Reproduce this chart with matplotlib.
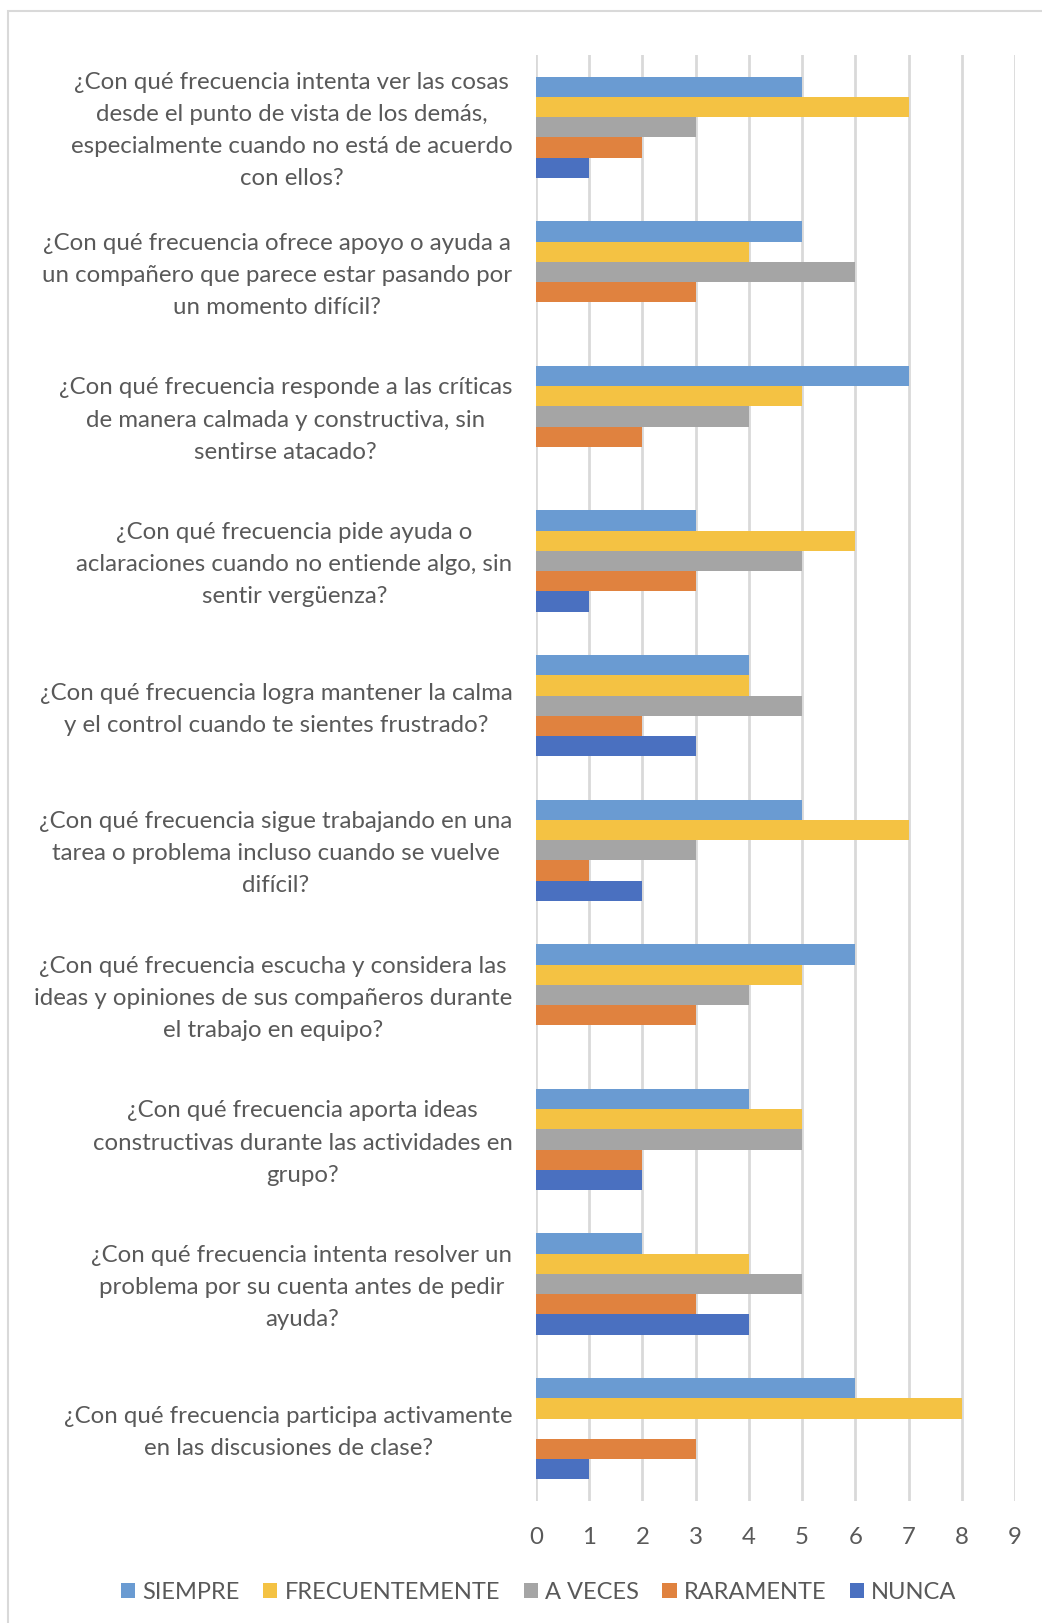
import matplotlib.pyplot as plt
import numpy as np
from matplotlib.patches import Rectangle
from matplotlib.transforms import ScaledTranslation

plt.rcParams['font.family'] = ['Lato', 'DejaVu Sans']

preguntas = [
    "¿Con qué frecuencia intenta ver las cosas\ndesde el punto de vista de los demás,\nespecialmente cuando no está de acuerdo\ncon ellos?",
    "¿Con qué frecuencia ofrece apoyo o ayuda a\nun compañero que parece estar pasando por\nun momento difícil?",
    "¿Con qué frecuencia responde a las críticas\nde manera calmada y constructiva, sin\nsentirse atacado?",
    "¿Con qué frecuencia pide ayuda o\naclaraciones cuando no entiende algo, sin\nsentir vergüenza?",
    "¿Con qué frecuencia logra mantener la calma\ny el control cuando te sientes frustrado?",
    "¿Con qué frecuencia sigue trabajando en una\ntarea o problema incluso cuando se vuelve\ndifícil?",
    "¿Con qué frecuencia escucha y considera las\nideas y opiniones de sus compañeros durante\nel trabajo en equipo?",
    "¿Con qué frecuencia aporta ideas\nconstructivas durante las actividades en\ngrupo?",
    "¿Con qué frecuencia intenta resolver un\nproblema por su cuenta antes de pedir\nayuda?",
    "¿Con qué frecuencia participa activamente\nen las discusiones de clase?",
]
series = ['SIEMPRE', 'FRECUENTEMENTE', 'A VECES', 'RARAMENTE', 'NUNCA']
siempre = [5, 5, 7, 3, 4, 5, 6, 4, 2, 6]
frecuentemente = [7, 4, 5, 6, 4, 7, 5, 5, 4, 8]
a_veces = [3, 6, 4, 5, 5, 3, 4, 5, 5, 0]
raramente = [2, 3, 2, 3, 2, 1, 3, 2, 3, 3]
nunca = [1, 0, 0, 1, 3, 2, 0, 2, 4, 1]
colores = ['#6A9BD2', '#F4C243', '#A5A5A5', '#E0823F', '#4A70C0']

valores = [siempre, frecuentemente, a_veces, raramente, nunca]

fig = plt.figure(figsize=(10.42, 16.24), dpi=100)
# marco gris claro
fig.patches.append(Rectangle((8/1042, -0.01), 1.1, 1 - 12/1624 + 0.01, transform=fig.transFigure,
                             fill=False, edgecolor='#D9D9D9', linewidth=1.5))
ax = fig.add_axes([536/1042, 1 - 1502/1624, (1015 - 536)/1042, (1502 - 56)/1624])

y = np.arange(len(preguntas))
h = 0.14
for i, (nombre, vals, c) in enumerate(zip(series, valores, colores)):
    ax.barh(y + (i - 2) * h, vals, height=h, color=c, label=nombre, zorder=3)

ax.set_ylim(len(preguntas) - 0.5, -0.5)
ax.set_xlim(0, 9)
ax.set_xticks(range(10))
ax.set_yticks(y)
ax.set_yticklabels(preguntas, multialignment='center', linespacing=1.65)
ax.grid(axis='x', color='#D9D9D9', linewidth=2, zorder=0)
for s in ax.spines.values():
    s.set_visible(False)
ax.tick_params(axis='both', length=0, colors='#595959', labelsize=17.3)
ax.tick_params(axis='y', pad=17)
ax.tick_params(axis='x', pad=18)
for lab in ax.get_yticklabels():
    lab.set_transform(lab.get_transform() + ScaledTranslation(0, 0.05, fig.dpi_scale_trans))

fig.legend(loc='center', bbox_to_anchor=(0.517, 1 - 1593/1624), ncol=5, frameon=False,
           fontsize=17, handlelength=0.6, handleheight=0.6, handletextpad=0.3,
           columnspacing=1.0, labelcolor='#595959')

plt.savefig('out.png', dpi=100)
